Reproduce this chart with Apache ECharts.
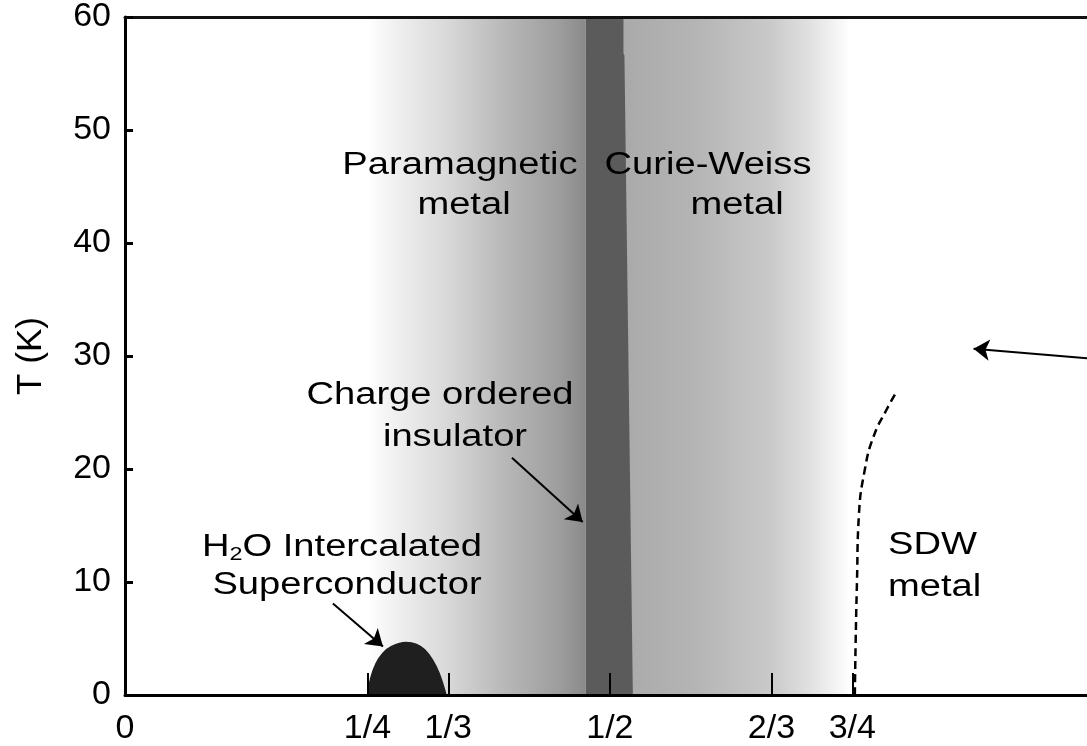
<!DOCTYPE html>
<html>
<head>
<meta charset="utf-8">
<script src="https://cdn.jsdelivr.net/npm/echarts@6/dist/echarts.min.js"></script>
<style>html,body{margin:0;padding:0;background:#fff}#c{width:1087px;height:746px}</style>
</head>
<body>
<div id="c"></div>
<script>
// ---- data ----
const xTickValues = [0, 1/4, 1/3, 1/2, 2/3, 3/4];
const xTickLabels = ['0', '1/4', '1/3', '1/2', '2/3', '3/4'];
// shaded metal regions [xStart, xEnd]
const paraRegion = [0.25, 0.475];
const curieRegion = [0.51, 0.745];
// charge ordered insulator band outline (x, T)
const coBand = [[0.475, 0], [0.475, 60], [0.514, 60], [0.514, 56.8], [0.515, 56.6], [0.5237, 0]];
// superconducting dome (x, T)
const scDome = [[0.2505, 0], [0.2535, 1.5], [0.259, 2.8], [0.266, 3.7], [0.275, 4.3], [0.2897, 4.65], [0.30, 4.5], [0.309, 4.0], [0.317, 3.1], [0.324, 1.9], [0.331, 0]];
// SDW boundary (x, T)
const sdwLine = [[0.7526, 0], [0.7535, 5], [0.7548, 10], [0.7567, 15.8], [0.763, 20], [0.772, 22.9], [0.785, 25.2], [0.796, 26.9]];
// arrows [[fromX, fromT], [toX, toT]]
const arrows = [
  [[0.399, 21.0], [0.472, 15.3]],
  [[0.2144, 8.1], [0.266, 4.3]],
  [[0.992, 29.8], [0.875, 30.65]]
];

const chart = echarts.init(document.getElementById('c'));
const FONT = "'Liberation Sans', Arial, Helvetica, sans-serif";
const AFS = 31;      // annotation font size
const ASX = 1.23;    // annotation horizontal stretch

function lg(stops) {
  return new echarts.graphic.LinearGradient(0, 0, 1, 0, stops.map(s => ({offset: s[0], color: s[1]})));
}
function ann(text, x, y, align) {
  return {type: 'text', x: x, y: y, scaleX: ASX, z: 20,
    style: {text: text, font: AFS + 'px ' + FONT, fill: '#000', textAlign: align || 'center', textVerticalAlign: 'middle'}};
}

const option = {
  animation: false,
  backgroundColor: '#ffffff',
  grid: {left: 125, right: 0, top: 15, bottom: 49, containLabel: false},
  xAxis: [{
    type: 'value', min: 0, max: 0.992, position: 'bottom', z: 10,
    axisLine: {show: true, lineStyle: {color: '#000', width: 3}},
    axisTick: {show: true, inside: true, length: 22, lineStyle: {color: '#000', width: 2}, customValues: xTickValues},
    axisLabel: {
      customValues: xTickValues, margin: 17, color: '#000', fontSize: 34, fontFamily: FONT,
      formatter: function (v) {
        for (let i = 0; i < xTickValues.length; i++) if (Math.abs(v - xTickValues[i]) < 1e-6) return xTickLabels[i];
        return '';
      }
    },
    splitLine: {show: false}
  }, {
    type: 'value', min: 0, max: 0.992, position: 'top', z: 10,
    axisLine: {show: true, lineStyle: {color: '#111', width: 3}},
    axisTick: {show: false}, axisLabel: {show: false}, splitLine: {show: false}
  }],
  yAxis: {
    type: 'value', min: 0, max: 60, interval: 10, z: 10,
    name: 'T (K)', nameLocation: 'middle', nameGap: 76,
    nameTextStyle: {fontSize: 35, color: '#000', fontFamily: FONT},
    axisLine: {show: true, lineStyle: {color: '#000', width: 3}},
    axisTick: {show: true, inside: true, length: 8, lineStyle: {color: '#000', width: 3}},
    axisLabel: {margin: 14, fontSize: 34, color: '#000', fontFamily: FONT},
    splitLine: {show: false}
  },
  series: [
    {
      type: 'line', data: [], silent: true, z: 1,
      markArea: {
        silent: true,
        data: [
          [{xAxis: paraRegion[0], yAxis: 0, itemStyle: {color: lg([[0, '#ffffff'], [0.1, '#f3f3f3'], [0.37, '#d8d8d8'], [0.61, '#bababa'], [0.88, '#9d9d9d'], [1, '#8a8a8a']])}},
           {xAxis: paraRegion[1], yAxis: 60}],
          [{xAxis: curieRegion[0], yAxis: 0, itemStyle: {color: lg([[0, '#a9a9a9'], [0.34, '#b5b5b5'], [0.66, '#c9c9c9'], [0.83, '#e0e0e0'], [1, '#fcfcfc']])}},
           {xAxis: curieRegion[1], yAxis: 60}]
        ]
      }
    },
    {
      type: 'custom', silent: true, z: 3,
      data: [0],
      renderItem: function (params, api) {
        const pts = coBand.map(p => api.coord(p));
        return {type: 'polygon', shape: {points: pts}, style: {fill: '#5b5b5b', stroke: null}};
      }
    },
    {
      type: 'line', data: scDome, smooth: 0.4, showSymbol: false, silent: true, z: 4,
      lineStyle: {color: '#1f1f1f', width: 1.5},
      areaStyle: {color: '#1f1f1f', opacity: 1}
    },
    {
      type: 'line', data: sdwLine, smooth: 0.5, showSymbol: false, silent: true, z: 4,
      lineStyle: {color: '#000', width: 2.5, type: [8, 5]}
    },
    {
      type: 'lines', coordinateSystem: 'cartesian2d', silent: true, z: 5,
      symbol: ['none', 'arrow'], symbolSize: 16,
      lineStyle: {color: '#000', width: 2, opacity: 1},
      data: arrows.map(a => ({coords: a}))
    }
  ],
  graphic: [
    ann('Paramagnetic', 460, 165),
    ann('metal', 464, 205),
    ann('Curie-Weiss', 708, 165),
    ann('metal', 737, 205),
    ann('Charge ordered', 440, 395),
    ann('insulator', 455, 437),
    {type: 'text', x: 342, y: 547, scaleX: ASX, z: 20, style: {
      text: '{n|H}{s|2}{n|O Intercalated}', fill: '#000', textAlign: 'center', textVerticalAlign: 'middle',
      rich: {n: {fontSize: AFS, fontFamily: FONT, fill: '#000'}, s: {fontSize: 19, fontFamily: FONT, fill: '#000', padding: [16, 0, 0, 0]}}
    }},
    ann('Superconductor', 347, 585),
    ann('SDW', 888, 545, 'left'),
    ann('metal', 888, 587, 'left')
  ]
};
chart.setOption(option);
</script>
</body>
</html>
